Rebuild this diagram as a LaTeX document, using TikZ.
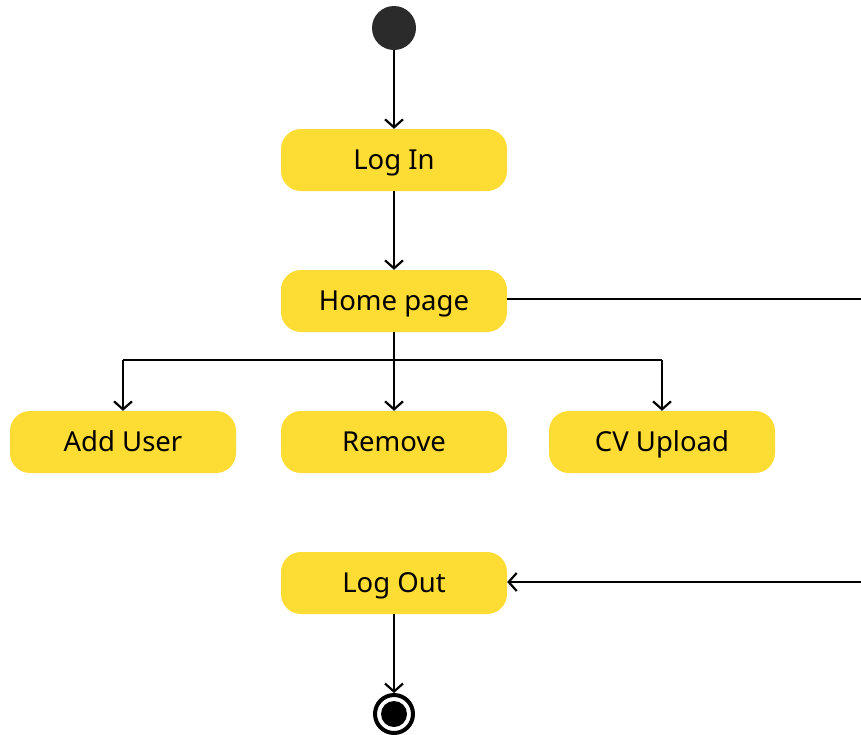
\documentclass[tikz,border=0pt]{standalone}
\usepackage{fontspec}
\setmainfont{Noto Sans}
\usetikzlibrary{arrows.meta}
\definecolor{actyellow}{HTML}{FDDD33}
\definecolor{startgrey}{HTML}{2B2B2B}
\tikzset{
  activity/.style={fill=actyellow, rounded corners=20pt, minimum width=226pt,
    minimum height=62pt, inner sep=0pt, font=\fontsize{27.5}{32}\selectfont,
    text height=19.6pt, text depth=0pt},
  flow/.style={line width=2.2pt, -{Straight Barb[length=8pt,width=18pt,line width=2.2pt]}},
  plain/.style={line width=2.2pt},
}
\begin{document}
\begin{tikzpicture}[x=1pt,y=-1pt]
  \useasboundingbox (0,0) rectangle (861,734);
  \clip (0,0) rectangle (861,734);
  \fill[white] (0,0) rectangle (861,734);

  % initial and final states
  \node[circle, fill=startgrey, minimum size=44pt, inner sep=0pt] (start) at (394,28) {};
  \node[circle, draw=black, line width=4pt, minimum size=38pt, inner sep=0pt] (final) at (394,714) {};
  \fill[black] (final.center) circle (13pt);

  % activities
  \node[activity] (login)  at (394,160) {Log In};
  \node[activity] (home)   at (394,301) {Home page};
  \node[activity] (add)    at (123,442) {Add User};
  \node[activity] (remove) at (394,442) {Remove};
  \node[activity] (cv)     at (662,442) {CV Upload};
  \node[activity] (logout) at (394,583) {Log Out};

  % branch points
  \coordinate (fork)  at (394,360);
  \coordinate (forkL) at (123,360);
  \coordinate (forkR) at (662,360);
  \coordinate (outA)  at (880,299);
  \coordinate (outB)  at (880,582);

  % flows
  \draw[flow] (start) -- (login);
  \draw[flow] (login) -- (home);
  \draw[plain] (home.south) -- (fork);
  \draw[plain] (forkL) -- (forkR);
  \draw[flow] (forkL) -- (add.north);
  \draw[flow] (fork) -- (remove.north);
  \draw[flow] (forkR) -- (cv.north);
  \draw[flow] (home.east |- outA) -- (outA) -- (outB) -- (logout.east |- outB);
  \draw[flow] (logout) -- (final);
\end{tikzpicture}
\end{document}
